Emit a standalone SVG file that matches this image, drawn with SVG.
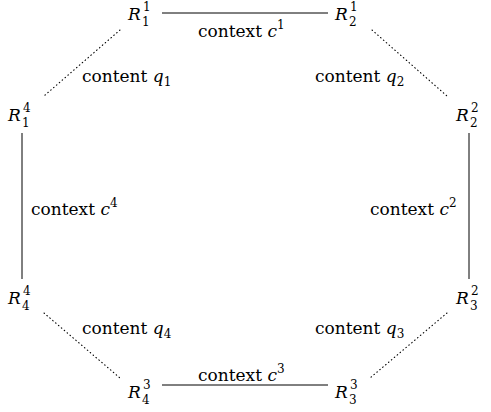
<svg xmlns="http://www.w3.org/2000/svg" width="491" height="412" viewBox="0 0 491 412">
<style>
text{font-family:"DejaVu Serif","Liberation Serif",serif;font-size:17px;fill:#000}
.m{font-style:italic}
.s{font-size:12px;font-style:normal}
.solid{stroke:#000;stroke-width:1;fill:none}
.dot{stroke:#000;stroke-width:1.1;fill:none;stroke-dasharray:0.6 3.2;stroke-linecap:round}
</style>
<rect width="491" height="412" fill="#fff"/>
<g id="connectors">
<line class="solid" x1="162" y1="13" x2="328" y2="13"/>
<line class="solid" x1="162" y1="385" x2="328" y2="385"/>
<line class="solid" x1="22" y1="133" x2="22" y2="279"/>
<line class="solid" x1="469" y1="133" x2="469" y2="279"/>
<line class="dot" x1="120" y1="30" x2="44" y2="96"/>
<line class="dot" x1="372" y1="30" x2="447" y2="96"/>
<line class="dot" x1="44" y1="313" x2="120" y2="378"/>
<line class="dot" x1="447" y1="313" x2="370" y2="378"/>
<text x="198" y="37">context <tspan class="m">c</tspan><tspan class="s" dy="-8">1</tspan></text>
<text x="370" y="215">context <tspan class="m">c</tspan><tspan class="s" dy="-8">2</tspan></text>
<text x="198" y="381">context <tspan class="m">c</tspan><tspan class="s" dy="-8">3</tspan></text>
<text x="31" y="215">context <tspan class="m">c</tspan><tspan class="s" dy="-8">4</tspan></text>
<text x="82" y="82">content <tspan class="m">q</tspan><tspan class="s" dy="4">1</tspan></text>
<text x="315" y="82">content <tspan class="m">q</tspan><tspan class="s" dy="4">2</tspan></text>
<text x="315" y="334">content <tspan class="m">q</tspan><tspan class="s" dy="4">3</tspan></text>
<text x="82" y="334">content <tspan class="m">q</tspan><tspan class="s" dy="4">4</tspan></text>
</g>
<g id="R11"><text class="m" x="128" y="20">R</text><text class="s" x="143" y="11">1</text><text class="s" x="142" y="26">1</text></g>
<g id="R21"><text class="m" x="335" y="20">R</text><text class="s" x="350" y="11">1</text><text class="s" x="349" y="26">2</text></g>
<g id="R22"><text class="m" x="456" y="121">R</text><text class="s" x="471" y="112">2</text><text class="s" x="470" y="127">2</text></g>
<g id="R32"><text class="m" x="456" y="304">R</text><text class="s" x="471" y="295">2</text><text class="s" x="470" y="310">3</text></g>
<g id="R33"><text class="m" x="335" y="398">R</text><text class="s" x="350" y="389">3</text><text class="s" x="349" y="404">3</text></g>
<g id="R43"><text class="m" x="128" y="398">R</text><text class="s" x="143" y="389">3</text><text class="s" x="142" y="404">4</text></g>
<g id="R44"><text class="m" x="8" y="304">R</text><text class="s" x="23" y="295">4</text><text class="s" x="22" y="310">4</text></g>
<g id="R14"><text class="m" x="8" y="121">R</text><text class="s" x="23" y="112">4</text><text class="s" x="22" y="127">1</text></g>
</svg>
